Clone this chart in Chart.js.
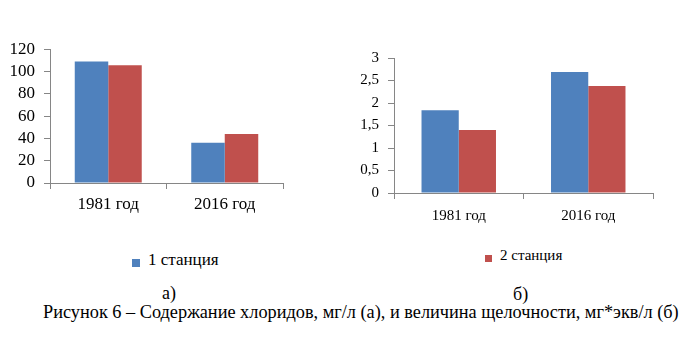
<!DOCTYPE html>
<html lang="ru">
<head>
<meta charset="utf-8">
<script src="https://cdn.jsdelivr.net/npm/chart.js@4"></script>
<style>
  body { margin: 0; background: #fff; width: 692px; height: 339px; position: relative; overflow: hidden;
         font-family: 'Liberation Serif', 'Times New Roman', 'Tinos', 'DejaVu Serif', serif; color: #000; }
  .box { position: absolute; }
  .txt { position: absolute; white-space: nowrap; line-height: 1; }
  .sq { position: absolute; }
</style>
</head>
<body>
<div class="box" style="left:0;top:30px;width:300px;height:200px"><canvas id="chartA" width="300" height="200"></canvas></div>
<div class="box" style="left:340px;top:40px;width:340px;height:190px"><canvas id="chartB" width="340" height="190"></canvas></div>
<div id="legend1"></div>
<div id="legend2"></div>
<div class="txt" style="left:162px;top:284px;font-size:18px">а)</div>
<div class="txt" style="left:513px;top:285px;font-size:18px">б)</div>
<div class="txt" id="caption" style="left:43px;top:303px;font-size:18.3px"></div>

<script>
// Данные
const categories = ['1981 год', '2016 год'];
const seriesNames = ['1 станция', '2 станция'];
const seriesColors = ['#4F81BD', '#C0504D'];

// а) хлориды, мг/л
const chlorides1 = [109, 36];
const chlorides2 = [105.7, 44];
const chlorideTicks = ['0', '20', '40', '60', '80', '100', '120'];

// б) щелочность, мг*экв/л
const alkalinity1 = [1.84, 2.69];
const alkalinity2 = [1.4, 2.38];
const alkalinityTicks = ['0', '0,5', '1', '1,5', '2', '2,5', '3'];

const captionText = 'Рисунок 6 – Содержание хлоридов, мг/л (а), и величина щелочности, мг*экв/л (б)';

const axisColor = '#868686';
const fontFamily = "'Liberation Serif', 'Times New Roman', 'Tinos', 'DejaVu Serif', serif";

function makeChart(id, series, tickLabels, opts) {
    const ctx = document.getElementById(id).getContext('2d');
    return new Chart(ctx, {
        type: 'bar',
        data: {
            labels: categories,
            datasets: series.map((values, i) => ({
                label: seriesNames[i],
                data: values,
                backgroundColor: seriesColors[i],
                borderWidth: 0,
                categoryPercentage: 0.575,
                barPercentage: 1
            }))
        },
        options: {
            responsive: false,
            animation: false,
            layout: { padding: { top: opts.padTop, right: opts.padRight, left: 0, bottom: 0 } },
            plugins: { legend: { display: false }, tooltip: { enabled: false } },
            scales: {
                x: {
                    grid: { offset: true, drawOnChartArea: false, drawTicks: true, tickLength: 6, color: axisColor },
                    border: { display: true, color: axisColor },
                    ticks: { color: '#000', padding: opts.xPad, maxRotation: 0, autoSkip: false,
                             font: { family: fontFamily, size: opts.xFont } },
                    afterFit: scale => { scale.height = opts.xHeight; }
                },
                y: {
                    min: 0,
                    max: opts.max,
                    grid: { drawOnChartArea: false, drawTicks: true, tickLength: 6, color: axisColor },
                    border: { display: true, color: axisColor },
                    ticks: {
                        stepSize: opts.max / (tickLabels.length - 1),
                        autoSkip: false,
                        color: '#000',
                        padding: opts.yPad,
                        font: { family: fontFamily, size: opts.yFont },
                        callback: (value, index) => tickLabels[index]
                    },
                    afterFit: scale => { scale.width = opts.yWidth; }
                }
            }
        }
    });
}

makeChart('chartA', [chlorides1, chlorides2], chlorideTicks,
    { max: 120, padTop: 19, padRight: 17, xHeight: 47, yWidth: 50, xFont: 17, yFont: 17, xPad: 5, yPad: 9 });
makeChart('chartB', [alkalinity1, alkalinity2], alkalinityTicks,
    { max: 3, padTop: 18, padRight: 27, xHeight: 37, yWidth: 54, xFont: 15, yFont: 15, xPad: 8, yPad: 9 });

// Легенда
function legendItem(el, i, x, y, sq, size) {
    el.innerHTML = '<div class="sq" style="left:' + x + 'px;top:' + y + 'px;width:' + sq + 'px;height:' + sq + 'px;background:' + seriesColors[i] + '"></div>' +
        '<div class="txt" style="left:' + (x + sq + 8) + 'px;top:' + (y - size * 0.45) + 'px;font-size:' + size + 'px">' + seriesNames[i] + '</div>';
}
legendItem(document.getElementById('legend1'), 0, 132, 259, 8, 17);
legendItem(document.getElementById('legend2'), 1, 485, 255, 7, 15);

document.getElementById('caption').textContent = captionText;
</script>
</body>
</html>
